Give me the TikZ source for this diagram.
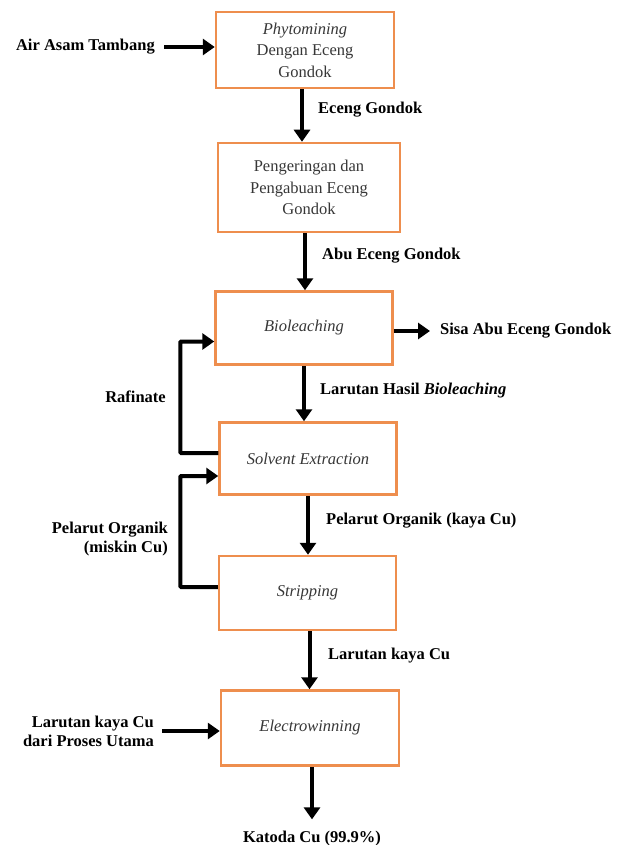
\documentclass[tikz,border=0pt]{standalone}
\usepackage{fontspec}
\setmainfont{LiberationSerif}[Extension=.ttf,UprightFont=*-Regular,BoldFont=*-Bold,ItalicFont=*-Italic,BoldItalicFont=*-BoldItalic]
\usetikzlibrary{arrows.meta}
\definecolor{boxorange}{RGB}{238,142,78}
\definecolor{boxtext}{RGB}{55,55,55}
\begin{document}
\begin{tikzpicture}[x=1pt,y=-1pt,
  procbox/.style={draw=boxorange,line width=2.5pt,fill=white,align=center,
    text=boxtext,font=\fontsize{16.5}{21.5}\selectfont,inner sep=0pt},
  lbl/.style={font=\fontsize{16.5}{19}\selectfont\bfseries,inner sep=0pt,text=black},
  arr/.style={line width=4pt,-{Triangle[length=12pt,width=16pt]},black},
  loopline/.style={line width=4pt,-{Triangle[length=12pt,width=16pt]},black,rounded corners=1pt}]
\useasboundingbox (0,0) rectangle (625,845);
% process boxes
\node[procbox,minimum width=178pt,minimum height=76pt] (b1) at (305,50) {\textit{Phytomining}\\Dengan Eceng\\Gondok};
\node[procbox,minimum width=182pt,minimum height=89pt] (b2) at (309,187.5) {Pengeringan dan\\Pengabuan Eceng\\Gondok};
\node[procbox,minimum width=177pt,minimum height=73pt] (b3) at (304,328) {\textit{Bioleaching}};
\node[procbox,minimum width=177pt,minimum height=72pt] (b4) at (308,458.5) {\textit{Solvent Extraction}};
\node[procbox,minimum width=177pt,minimum height=74pt] (b5) at (307.5,593) {\textit{Stripping}};
\node[procbox,minimum width=178pt,minimum height=75pt] (b6) at (310,728) {\textit{Electrowinning}};
% labels
\node[lbl,anchor=east,inner xsep=9pt] (t1) at (164,47) {Air Asam Tambang};
\node[lbl,anchor=west] (l1) at (318,110) {Eceng Gondok};
\node[lbl,anchor=west] (l2) at (322,256) {Abu Eceng Gondok};
\node[lbl,anchor=west] (l3) at (440,331) {Sisa Abu Eceng Gondok};
\node[lbl,anchor=west] (l4) at (320,391) {Larutan Hasil \textit{Bioleaching}};
\node[lbl,anchor=east] (l5) at (166,397) {Rafinate};
\node[lbl,anchor=east,align=right] (l6) at (168,539) {Pelarut Organik\\(miskin Cu)};
\node[lbl,anchor=west] (l7) at (326,521) {Pelarut Organik (kaya Cu)};
\node[lbl,anchor=west] (l8) at (328,656) {Larutan kaya Cu};
\node[lbl,anchor=east,align=right,inner xsep=8pt] (t2) at (162,731) {Larutan kaya Cu\\dari Proses Utama};
\node[lbl,anchor=base,inner ysep=11pt] (k) at (312,842) {Katoda Cu (99.9\%)};
\coordinate (s1) at (430,331);
% connectors
\draw[arr] (t1.east) -- (t1.east -| b1.west);
\draw[arr] ([xshift=-3pt]b1.south) -- ([xshift=-3pt]b1.south |- b2.north);
\draw[arr] ([xshift=-4pt]b2.south) -- ([xshift=-4pt]b2.south |- b3.north);
\draw[arr] (b3.east |- s1) -- (s1);
\draw[arr] (b3.south) -- (b3.south |- b4.north);
\draw[arr] (b4.south) -- (b4.south |- b5.north);
\draw[arr] ([xshift=2pt]b5.south) -- ([xshift=2pt]b5.south |- b6.north);
\draw[arr] (t2.east) -- (t2.east -| b6.west);
\draw[arr] ([xshift=2pt]b6.south) -- ([xshift=2pt]b6.south |- k.north);
\draw[loopline] ([yshift=5.5pt]b4.west) -- ++(-38,0) |- ([yshift=-13.5pt]b3.west);
\draw[loopline] ([yshift=6pt]b5.west) -- ++(-37.5,0) |- ([yshift=-17.5pt]b4.west);
\end{tikzpicture}
\end{document}
